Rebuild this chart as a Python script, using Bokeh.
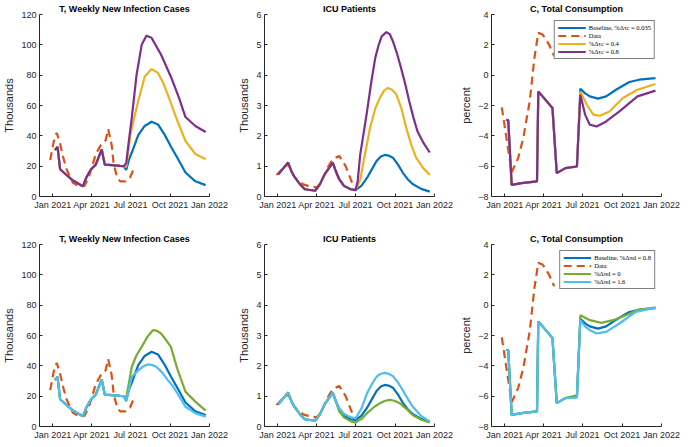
import pandas as pd
from bokeh.plotting import figure
from bokeh.layouts import gridplot
from bokeh.models import Range1d, FixedTicker, DatetimeTickFormatter, Legend, LegendItem
from bokeh.embed import file_html
from bokeh.resources import INLINE

# x values are days counted from this date
START = "2021-01-01"
x_tick_dates = ["2021-01-01", "2021-04-01", "2021-07-01", "2021-10-01", "2022-01-01"]

# ---------------- T, Weekly New Infection Cases (thousands) ----------------
inf_data_day = [-6, 2, 9, 16, 24, 32, 40, 47, 59, 74, 84, 93, 100, 112, 123, 129, 137, 142, 150, 157, 169, 180, 188]
inf_data = [24, 36, 42, 36, 26, 18, 13, 9, 7, 7, 13, 21, 28, 34, 37, 44.5, 34, 21, 12.5, 10, 10, 12.5, 18]

inf_common_day = [5, 11, 17, 30, 47, 59, 70, 78, 89, 100, 114, 121, 138, 157, 165]
inf_common = [30.7, 32.7, 18, 14.7, 10.5, 8.6, 6.7, 12.5, 18, 21, 31, 21, 20.7, 20.2, 20]

inf_base_day = [171, 177, 184, 199, 214, 230, 245, 260, 275, 290, 309, 332, 356]
inf_base = [17.5, 24, 29, 40.5, 46.5, 49.3, 47.5, 41, 33, 25.6, 15.8, 10, 7.5]
inf_tau04_day = [171, 181, 188, 199, 214, 230, 245, 257, 268, 290, 309, 332, 356]
inf_tau04 = [19.5, 41, 50, 63, 79, 84, 81.5, 75, 67, 50, 36.6, 28, 24.5]
inf_tau08_day = [171, 176, 184, 195, 207, 218, 230, 252, 275, 294, 309, 332, 356]
inf_tau08 = [22, 34, 52, 80, 100, 106, 104.6, 93.6, 79, 65, 52.4, 46.5, 42.5]
inf_pd0_day = [171, 184, 195, 207, 220, 233, 243, 252, 264, 275, 290, 309, 332, 356]
inf_pd0 = [18.6, 39.4, 47, 52.5, 59, 63.5, 63, 61.3, 57, 52.5, 38, 23, 16.4, 10.5]
inf_pd16_day = [171, 184, 199, 210, 222, 232, 241, 255, 268, 280, 290, 309, 332, 356]
inf_pd16 = [16.4, 32.8, 37, 39.5, 41, 40.5, 39.4, 35.5, 30.6, 26.5, 21.9, 13, 8.8, 6.5]

# ---------------- ICU Patients (thousands) ----------------
icu_data_day = [-3, 10, 24, 40, 59, 71, 90, 100, 109, 118, 128, 143, 158, 173]
icu_data = [0.71, 0.9, 1.06, 0.62, 0.4, 0.35, 0.3, 0.45, 0.73, 1.0, 1.23, 1.34, 1.0, 0.46]

icu_common_day = [1, 24, 33, 40, 52, 63, 87, 98, 109, 120, 128, 135]
icu_common = [0.73, 1.12, 0.79, 0.62, 0.4, 0.24, 0.19, 0.4, 0.73, 0.95, 1.12, 0.84]

icu_base_day = [143, 154, 170, 181, 195, 208, 220, 230, 240, 249, 258, 268, 280, 291, 302, 314, 334, 354]
icu_base = [0.57, 0.35, 0.24, 0.21, 0.36, 0.62, 0.92, 1.17, 1.32, 1.37, 1.35, 1.28, 1.05, 0.79, 0.58, 0.41, 0.25, 0.16]
icu_tau04_day = [143, 154, 170, 181, 192, 200, 215, 227, 238, 248, 257, 266, 276, 288, 299, 311, 322, 338, 354]
icu_tau04 = [0.57, 0.35, 0.24, 0.21, 0.55, 1.17, 2.27, 2.9, 3.26, 3.5, 3.58, 3.52, 3.37, 2.9, 2.27, 1.7, 1.28, 0.95, 0.71]
icu_tau08_day = [143, 154, 170, 181, 186, 192, 200, 208, 218, 227, 235, 242, 253, 261, 268, 278, 287, 297, 306, 316, 325, 340, 354]
icu_tau08 = [0.57, 0.35, 0.24, 0.21, 0.5, 1.39, 2.1, 2.82, 3.8, 4.57, 5.0, 5.28, 5.42, 5.35, 5.12, 4.7, 4.24, 3.7, 3.15, 2.6, 2.16, 1.75, 1.45]
icu_pd0_day = [143, 154, 170, 181, 195, 208, 225, 238, 250, 261, 272, 284, 298, 314, 334, 354]
icu_pd0 = [0.5, 0.3, 0.17, 0.13, 0.25, 0.44, 0.65, 0.77, 0.85, 0.88, 0.85, 0.77, 0.6, 0.38, 0.22, 0.13]
icu_pd16_day = [143, 154, 170, 181, 195, 208, 220, 230, 240, 249, 258, 268, 280, 291, 302, 314, 334, 354]
icu_pd16 = [0.6, 0.42, 0.3, 0.27, 0.6, 1.1, 1.42, 1.64, 1.74, 1.77, 1.74, 1.66, 1.45, 1.2, 0.93, 0.66, 0.35, 0.16]

# ---------------- C, Total Consumption (percent) ----------------
con_data_day = [-7, 5, 16, 31, 43, 58, 69, 78, 88, 103, 115]
con_data = [-2.12, -4.37, -6.4, -5.47, -4.15, -1.73, 1.14, 2.79, 2.68, 2.02, 1.25]

con_common_day = [3, 8, 16, 39, 75, 78, 111, 121, 141, 168]
con_common = [-2.94, -2.98, -7.23, -7.12, -7.0, -1.07, -2.17, -6.46, -6.13, -6.02]

con_base_day = [176, 187, 198, 217, 236, 259, 290, 313, 351]
con_base = [-0.89, -1.2, -1.4, -1.55, -1.4, -0.96, -0.45, -0.3, -0.19]
con_tau04_day = [176, 191, 206, 221, 244, 275, 309, 351]
con_tau04 = [-1.07, -1.95, -2.6, -2.67, -2.39, -1.5, -0.96, -0.58]
con_tau08_day = [176, 187, 198, 214, 236, 267, 309, 351]
con_tau08 = [-1.29, -2.6, -3.27, -3.38, -3.05, -2.39, -1.4, -1.02]
con_pd0_day = [168, 176, 198, 225, 252, 282, 313, 351]
con_pd0 = [-5.95, -0.66, -0.99, -1.17, -0.99, -0.66, -0.29, -0.16]
con_pd16_day = [168, 176, 187, 198, 214, 236, 267, 305, 351]
con_pd16 = [-6.1, -0.99, -1.4, -1.65, -1.87, -1.76, -1.21, -0.44, -0.16]

BLUE = "#0072BD"
ORANGE = "#D95319"
YELLOW = "#EDB120"
PURPLE = "#7E2F8E"
GREEN = "#77AC30"
LBLUE = "#4DBEEE"
AX = "#262626"
FONT = "Liberation Sans"
LW = 2.2


def dates(days):
    return list(pd.Timestamp(START) + pd.to_timedelta(days, unit="D"))


def make_fig(title, ylabel, yr, yticks, left, right, bottom):
    p = figure(frame_width=170, frame_height=182, x_axis_type="datetime",
               x_range=Range1d(pd.Timestamp("2020-12-01"), pd.Timestamp("2022-01-01")),
               y_range=Range1d(*yr), output_backend="svg", toolbar_location=None,
               min_border_left=left, min_border_right=right,
               min_border_top=14, min_border_bottom=bottom)
    p.title.text = title
    p.title.align = "center"
    p.title.text_font = FONT
    p.title.text_font_size = "9px"
    p.title.text_font_style = "bold"
    p.title.text_color = "black"
    p.title.standoff = 2
    p.outline_line_color = None
    p.xgrid.visible = False
    p.ygrid.visible = False
    p.xaxis.ticker = FixedTicker(ticks=[pd.Timestamp(t).value / 1e6 for t in x_tick_dates])
    fmt = "%b %Y"
    p.xaxis.formatter = DatetimeTickFormatter(milliseconds=fmt, seconds=fmt, minsec=fmt, minutes=fmt,
                                              hourmin=fmt, hours=fmt, days=fmt, months=fmt, years=fmt)
    p.yaxis.ticker = FixedTicker(ticks=yticks)
    p.yaxis.axis_label = ylabel
    for ax in (p.xaxis[0], p.yaxis[0]):
        ax.axis_line_color = AX
        ax.major_tick_line_color = AX
        ax.major_tick_in = 3
        ax.major_tick_out = 0
        ax.minor_tick_line_color = None
        ax.major_label_text_font = FONT
        ax.major_label_text_font_size = "9px"
        ax.major_label_text_color = AX
        ax.major_label_standoff = 3
        ax.axis_label_text_font = FONT
        ax.axis_label_text_font_size = "11px"
        ax.axis_label_text_font_style = "normal"
        ax.axis_label_text_color = AX
        ax.axis_label_standoff = 3
    return p


def add_lines(p, common_day, common, data_day, data, series):
    rs = []
    for i, (day, vals, color) in enumerate(series):
        r = p.line(dates(common_day + day), common + vals, line_color=color, line_width=LW)
        rs.append(r)
        if i == 0:
            rd = p.line(dates(data_day), data, line_color=ORANGE, line_width=LW, line_dash="8 5")
            rs.append(rd)
    return rs


def add_legend(p, rs, labels):
    leg = Legend(items=[LegendItem(label=l, renderers=[r]) for l, r in zip(labels, rs)],
                 location="top_right")
    leg.label_text_font = "Liberation Serif"
    leg.label_text_font_size = "6.5px"
    leg.label_text_color = "black"
    leg.label_height = 7
    leg.glyph_height = 7
    leg.glyph_width = 28
    leg.label_standoff = 3
    leg.spacing = 1
    leg.padding = 3
    leg.margin = 6
    leg.border_line_color = "black"
    leg.border_line_width = 0.7
    leg.background_fill_alpha = 1
    p.add_layout(leg)


inf_ticks = [0, 20, 40, 60, 80, 100, 120]
icu_ticks = [0, 1, 2, 3, 4, 5, 6]
con_ticks = [-8, -6, -4, -2, 0, 2, 4]

top_labels = ["Baseline, %Δτc = 0.035", "Data", "%Δτc = 0.4", "%Δτc = 0.8"]
bot_labels = ["Baseline, %Δπd = 0.8", "Data", "%Δπd = 0", "%Δπd = 1.6"]

TOPB = 34
BOTB = 19

# top row
p1 = make_fig("T, Weekly New Infection Cases", "Thousands", (0, 120), inf_ticks, 33, 19, TOPB)
add_lines(p1, inf_common_day, inf_common, inf_data_day, inf_data,
          [(inf_base_day, inf_base, BLUE), (inf_tau04_day, inf_tau04, YELLOW), (inf_tau08_day, inf_tau08, PURPLE)])
p2 = make_fig("ICU Patients", "Thousands", (0, 6), icu_ticks, 36, 19, TOPB)
add_lines(p2, icu_common_day, icu_common, icu_data_day, icu_data,
          [(icu_base_day, icu_base, BLUE), (icu_tau04_day, icu_tau04, YELLOW), (icu_tau08_day, icu_tau08, PURPLE)])
p3 = make_fig("C, Total Consumption", "percent", (-8, 4), con_ticks, 38, 19, TOPB)
r3 = add_lines(p3, con_common_day, con_common, con_data_day, con_data,
               [(con_base_day, con_base, BLUE), (con_tau04_day, con_tau04, YELLOW), (con_tau08_day, con_tau08, PURPLE)])
add_legend(p3, r3, top_labels)

# bottom row
p4 = make_fig("T, Weekly New Infection Cases", "Thousands", (0, 120), inf_ticks, 33, 19, BOTB)
add_lines(p4, inf_common_day, inf_common, inf_data_day, inf_data,
          [(inf_base_day, inf_base, BLUE), (inf_pd0_day, inf_pd0, GREEN), (inf_pd16_day, inf_pd16, LBLUE)])
p5 = make_fig("ICU Patients", "Thousands", (0, 6), icu_ticks, 36, 19, BOTB)
add_lines(p5, icu_common_day, icu_common, icu_data_day, icu_data,
          [(icu_base_day, icu_base, BLUE), (icu_pd0_day, icu_pd0, GREEN), (icu_pd16_day, icu_pd16, LBLUE)])
p6 = make_fig("C, Total Consumption", "percent", (-8, 4), con_ticks, 38, 19, BOTB)
con_common_b_day = con_common_day[:-1]
con_common_b = con_common[:-1]
rb = p6.line(dates(con_common_day + con_base_day), con_common + con_base, line_color=BLUE, line_width=LW)
rd = p6.line(dates(con_data_day), con_data, line_color=ORANGE, line_width=LW, line_dash="8 5")
rg = p6.line(dates(con_common_b_day + con_pd0_day), con_common_b + con_pd0, line_color=GREEN, line_width=LW)
rl = p6.line(dates(con_common_b_day + con_pd16_day), con_common_b + con_pd16, line_color=LBLUE, line_width=LW)
add_legend(p6, [rb, rd, rg, rl], bot_labels)

grid = gridplot([[p1, p2, p3], [p4, p5, p6]], toolbar_location=None)

open("out.html", "w").write(file_html(grid, INLINE))
